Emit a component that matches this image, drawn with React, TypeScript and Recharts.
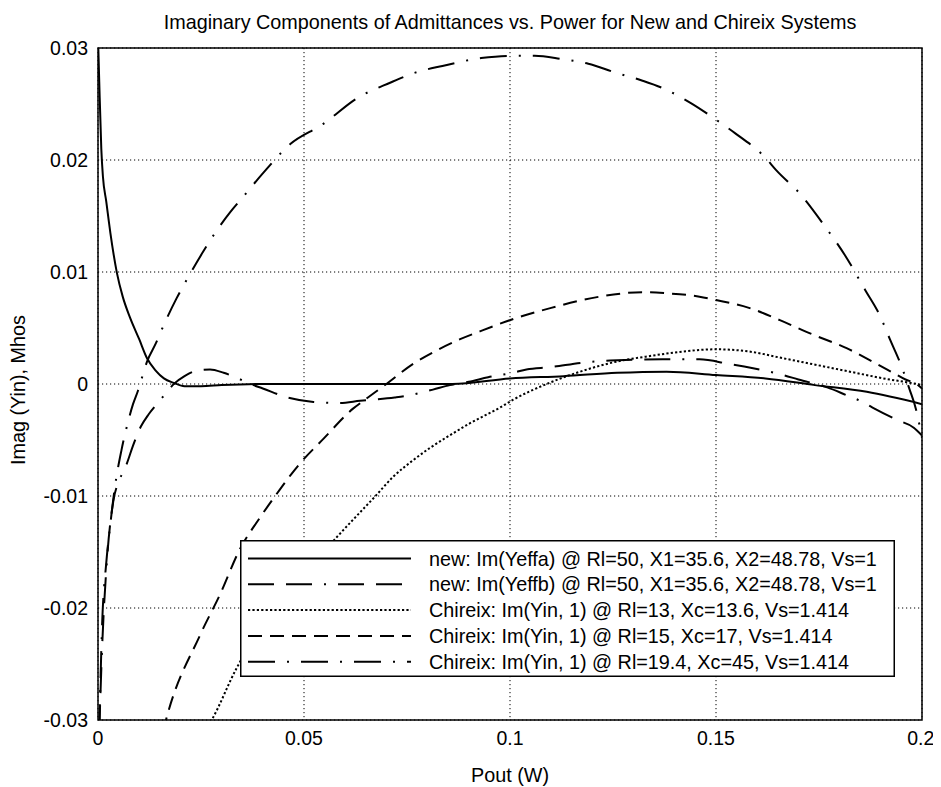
import React from 'react';
import { LineChart, Line, XAxis, YAxis, CartesianGrid, ReferenceArea } from 'recharts';

// axis ticks
const xTicks = [0, 0.05, 0.1, 0.15, 0.2];
const yTicks = [-0.03, -0.02, -0.01, 0, 0.01, 0.02, 0.03];

// new: Im(Yeffa)  [Pout, Imag]
const yeffa: [number, number][] = [
  [0, 0.031], [0.0003, 0.027], [0.0008, 0.021], [0.0012, 0.0185], [0.002, 0.0163],
  [0.003, 0.0135], [0.0046, 0.0099], [0.006, 0.0078], [0.0078, 0.0059], [0.01, 0.004],
  [0.0119, 0.0023], [0.014, 0.0012], [0.016, 0.0005], [0.0184, 0.0001], [0.021, -0.0002],
  [0.025, -0.0002], [0.03, -0.0001], [0.04, 0], [0.06, 0], [0.086, 0], [0.1, 0.0005],
  [0.113, 0.0007], [0.126, 0.001], [0.138, 0.0011], [0.15, 0.0008], [0.162, 0.0005],
  [0.174, -0.0001], [0.1866, -0.0007], [0.2, -0.0018],
];

// new: Im(Yeffb)
const yeffb: [number, number][] = [
  [0.0003, -0.031], [0.001, -0.0235], [0.0021, -0.0161], [0.0037, -0.0105], [0.0053, -0.0085],
  [0.007, -0.0071], [0.0085, -0.0055], [0.0104, -0.0038], [0.0123, -0.0027], [0.0145, -0.0017],
  [0.0163, -0.0009], [0.0184, 0], [0.021, 0.0007], [0.024, 0.0012], [0.0272, 0.0013],
  [0.0305, 0.001], [0.034, 0.0005], [0.037, 0], [0.04, -0.0004], [0.046, -0.0012],
  [0.0523, -0.0016], [0.0587, -0.0017], [0.0636, -0.0015], [0.072, -0.0012], [0.0757, -0.001],
  [0.0813, -0.0005], [0.0854, -0.0001], [0.09, 0.0002], [0.0947, 0.0006], [0.1007, 0.001],
  [0.104, 0.0013], [0.1097, 0.0015], [0.1175, 0.0019], [0.1243, 0.0021], [0.137, 0.0022],
  [0.146, 0.0022], [0.153, 0.0018], [0.159, 0.0014], [0.1663, 0.0008], [0.17, 0.0004],
  [0.177, -0.0003], [0.1817, -0.001], [0.185, -0.0015], [0.188, -0.0021], [0.1939, -0.0032],
  [0.198, -0.0039], [0.2, -0.0046],
];

// Chireix Rl=13
const chireix13: [number, number][] = [
  [0.0268, -0.0305], [0.0276, -0.03], [0.0336, -0.0254], [0.04, -0.0215], [0.05, -0.017],
  [0.0579, -0.0137], [0.0676, -0.0099], [0.0716, -0.0083], [0.0765, -0.0068], [0.0806, -0.0057],
  [0.0862, -0.0044], [0.0903, -0.0035], [0.0976, -0.0021], [0.1008, -0.0014], [0.1089, 0],
  [0.117, 0.0011], [0.1259, 0.002], [0.134, 0.0025], [0.142, 0.0029], [0.15, 0.0031],
  [0.158, 0.0029], [0.1663, 0.0023], [0.1744, 0.0017], [0.1825, 0.0011], [0.1906, 0.0005],
  [0.1987, 0], [0.2, -0.0001],
];

// Chireix Rl=15
const chireix15: [number, number][] = [
  [0.0158, -0.031], [0.0165, -0.03], [0.0248, -0.0224], [0.0296, -0.0188], [0.0345, -0.0147],
  [0.039, -0.0121], [0.043, -0.01], [0.0466, -0.0082], [0.049, -0.0071], [0.0547, -0.0049],
  [0.0619, -0.0022], [0.0648, -0.0014], [0.07, 0], [0.0765, 0.0018], [0.0822, 0.003],
  [0.0879, 0.004], [0.0927, 0.0047], [0.0992, 0.0056], [0.11, 0.0068], [0.1218, 0.0078],
  [0.1323, 0.0082], [0.138, 0.0081], [0.146, 0.0078], [0.15, 0.0075], [0.158, 0.0068],
  [0.1655, 0.0057], [0.1736, 0.0044], [0.1817, 0.0032], [0.188, 0.002], [0.193, 0.001],
  [0.196, 0.0004], [0.1987, 0], [0.2, -0.0004],
];

// Chireix Rl=19.4
const chireix194: [number, number][] = [
  [0.0003, -0.031], [0.001, -0.0215], [0.002, -0.016], [0.003, -0.0125], [0.0041, -0.0092],
  [0.0057, -0.0059], [0.007, -0.0038], [0.0085, -0.0018], [0.0097, -0.0006], [0.0107, 0.0006],
  [0.0119, 0.002], [0.014, 0.0036], [0.016, 0.0053], [0.019, 0.0076], [0.0223, 0.0098],
  [0.0255, 0.0118], [0.0288, 0.0137], [0.032, 0.0153], [0.0352, 0.0167], [0.04, 0.0188],
  [0.0466, 0.0214], [0.0546, 0.0232], [0.0628, 0.0255], [0.0709, 0.0269], [0.077, 0.0278],
  [0.0836, 0.0284], [0.093, 0.0291], [0.1, 0.0293], [0.106, 0.0293], [0.1126, 0.029],
  [0.119, 0.0286], [0.1256, 0.0278], [0.132, 0.0271], [0.1378, 0.0263], [0.1438, 0.0251],
  [0.15, 0.0236], [0.1546, 0.0224], [0.162, 0.0202], [0.1646, 0.0191], [0.1706, 0.0169],
  [0.1762, 0.0142], [0.1813, 0.0115], [0.1862, 0.0084], [0.1898, 0.0061], [0.1922, 0.004],
  [0.195, 0.0016], [0.197, -0.0005], [0.1985, -0.0022], [0.2, -0.0048],
];

const seriesNames = [
  'new: Im(Yeffa) @ Rl=50, X1=35.6, X2=48.78, Vs=1',
  'new: Im(Yeffb) @ Rl=50, X1=35.6, X2=48.78, Vs=1',
  'Chireix: Im(Yin, 1) @ Rl=13, Xc=13.6, Vs=1.414',
  'Chireix: Im(Yin, 1) @ Rl=15, Xc=17, Vs=1.414',
  'Chireix: Im(Yin, 1) @ Rl=19.4, Xc=45, Vs=1.414',
];
const seriesDash = ['', '26 12 26 12 2 12', '2.2 2.2', '14 8', '27 12 2 12'];

const toPoints = (pts: [number, number][]) => pts.map(([x, y]) => ({ x, y }));

const series = [yeffa, yeffb, chireix13, chireix15, chireix194].map((pts, i) => ({
  name: seriesNames[i],
  dash: seriesDash[i],
  data: toPoints(pts),
}));

const FONT = '"Liberation Sans", Arial, Helvetica, sans-serif';

const PlotLegend = () => (
  <svg
    width={655}
    height={137}
    style={{ position: 'absolute', left: 232, top: 532, fontFamily: FONT, zIndex: 2 }}
  >
    <rect x={0.75} y={0.75} width={653.5} height={135.5} fill="#fff" stroke="#000" strokeWidth={1.5} />
    {series.map((s, i) => {
      const y = 18.5 + i * 25.8;
      return (
        <g key={s.name}>
          <line
            x1={8}
            x2={171}
            y1={y}
            y2={y}
            stroke="#000"
            strokeWidth={2}
            strokeDasharray={s.dash || undefined}
          />
          <text x={189} y={y} dominantBaseline="central" fontSize={19.8} fill="#000">
            {s.name}
          </text>
        </g>
      );
    })}
  </svg>
);

const XTitle = (props: any) => {
  const vb = props.viewBox || { x: 90, y: 712, width: 824 };
  return (
    <text
      x={vb.x + vb.width / 2}
      y={vb.y + 55}
      textAnchor="middle"
      dominantBaseline="central"
      fontSize={19.8}
      fontFamily={FONT}
      fill="#000"
    >
      Pout (W)
    </text>
  );
};

export default function App() {
  return (
    <div style={{ position: 'relative', width: 925, height: 779, fontFamily: FONT, color: '#000' }}>
      <div
        style={{
          position: 'absolute', left: 102, width: 800, top: 4, zIndex: 2,
          textAlign: 'center', fontSize: 19.8, lineHeight: '20px',
        }}
      >
        Imaginary Components of Admittances vs. Power for New and Chireix Systems
      </div>

      <LineChart width={925} height={779} margin={{ top: 40, right: 11, bottom: 0, left: 0 }}>
        <CartesianGrid stroke="#000" strokeWidth={1} strokeDasharray="1.2 2.8" />
        <XAxis
          type="number"
          dataKey="x"
          domain={[0, 0.2]}
          ticks={xTicks}
          allowDataOverflow
          height={67}
          axisLine={false}
          tickLine={false}
          tickSize={0}
          tickMargin={11}
          tick={{ fill: '#000', fontSize: 19.5, fontFamily: FONT }}
          label={{ content: XTitle }}
        />
        <YAxis
          type="number"
          dataKey="y"
          domain={[-0.03, 0.03]}
          ticks={yTicks}
          allowDataOverflow
          width={90}
          axisLine={false}
          tickLine={false}
          tickSize={0}
          tickMargin={10}
          tick={{ fill: '#000', fontSize: 19.5, fontFamily: FONT }}
        />
        <ReferenceArea
          x1={0}
          x2={0.2}
          y1={-0.03}
          y2={0.03}
          fill="none"
          fillOpacity={0}
          stroke="#000"
          strokeWidth={1.5}
        />
        {series.map((s) => (
          <Line
            key={s.name}
            data={s.data}
            dataKey="y"
            name={s.name}
            type="monotone"
            stroke="#000"
            strokeWidth={2}
            strokeDasharray={s.dash || undefined}
            dot={false}
            activeDot={false}
            isAnimationActive={false}
          />
        ))}
      </LineChart>

      <div
        style={{
          position: 'absolute', left: 10, top: 382, fontSize: 19.8, lineHeight: '20px', zIndex: 2,
          whiteSpace: 'nowrap', transform: 'translate(-50%, -50%) rotate(-90deg)',
        }}
      >
        Imag (Yin), Mhos
      </div>

      <PlotLegend />
    </div>
  );
}
